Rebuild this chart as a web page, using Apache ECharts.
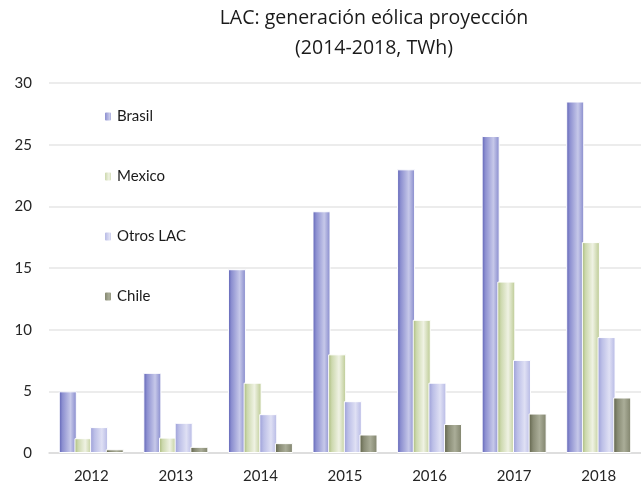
<!DOCTYPE html>
<html>
<head>
<meta charset="utf-8">
<script src="https://cdn.jsdelivr.net/npm/echarts@6/dist/echarts.min.js"></script>
<style>
  html, body { margin: 0; padding: 0; background: #fff; }
  #chart { width: 641px; height: 486px; }
</style>
</head>
<body>
<div id="chart"></div>
<script>
const FONT = 'Lato, "Open Sans", sans-serif'

// datos (TWh)
const years = ['2012', '2013', '2014', '2015', '2016', '2017', '2018']
const brasil = [5.0, 6.5, 14.9, 19.6, 23.0, 25.7, 28.5]
const mexico = [1.2, 1.25, 5.7, 8.0, 10.8, 13.9, 17.1]
const otrosLac = [2.1, 2.45, 3.15, 4.2, 5.7, 7.55, 9.4]
const chile = [0.3, 0.5, 0.8, 1.5, 2.35, 3.2, 4.5]
const yTicks = [0, 30, 5] // min, max, intervalo

const grad = (stops) => new echarts.graphic.LinearGradient(0, 0, 1, 0,
  stops.map((c) => ({ offset: c[0], color: c[1] })))

const colors = {
  Brasil: grad([[0, '#5a5eb3'], [0.2, '#8c8fd0'], [0.65, '#c6c8e9'], [1, '#8387cb']]),
  Mexico: grad([[0, '#a6b877'], [0.2, '#ccd8ad'], [0.6, '#eff2e3'], [1, '#b9c88f']]),
  'Otros LAC': grad([[0, '#9a9dd7'], [0.25, '#bcbfe7'], [0.65, '#dfe0f4'], [1, '#b4b7e4']]),
  Chile: grad([[0, '#5d6047'], [0.25, '#898c75'], [0.6, '#aaad98'], [1, '#7e816a']]),
}

const mkSeries = (name, data) => ({
  name: name,
  type: 'bar',
  data: data,
  barWidth: 18,
  barGap: '-13%',
  itemStyle: { color: colors[name], borderColor: '#fff', borderWidth: 1 },
})

const chart = echarts.init(document.getElementById('chart'))
chart.setOption({
  animation: false,
  backgroundColor: '#fff',
  title: {
    text: 'LAC: generación eólica proyección\n(2014-2018, TWh)',
    left: 369,
    textAlign: 'center',
    top: -2,
    textStyle: { fontFamily: '"Open Sans", Lato, sans-serif', fontSize: 19.5, fontWeight: 'normal', color: '#1a1a1a', lineHeight: 30 },
  },
  legend: {
    orient: 'vertical',
    left: 98,
    top: 104,
    itemWidth: 8,
    itemHeight: 10,
    itemGap: 45,
    textStyle: { fontFamily: FONT, fontSize: 15, color: '#1a1a1a' },
    data: ['Brasil', 'Mexico', 'Otros LAC', 'Chile'],
  },
  grid: { left: 49, top: 83, width: 600, height: 370, containLabel: false },
  xAxis: {
    type: 'category',
    data: years,
    axisLine: { lineStyle: { color: '#d9d9d9', width: 1.5 } },
    axisTick: { show: false },
    axisLabel: { fontFamily: FONT, fontSize: 15, color: '#262626', margin: 16 },
  },
  yAxis: {
    type: 'value',
    min: yTicks[0],
    max: yTicks[1],
    interval: yTicks[2],
    axisLine: { show: false },
    axisTick: { show: false },
    axisLabel: { fontFamily: FONT, fontSize: 15, color: '#262626', margin: 17 },
    splitLine: { lineStyle: { color: '#e6e6e6', width: 1.5 } },
  },
  series: [
    mkSeries('Brasil', brasil),
    mkSeries('Mexico', mexico),
    mkSeries('Otros LAC', otrosLac),
    mkSeries('Chile', chile),
  ],
})
</script>
</body>
</html>
